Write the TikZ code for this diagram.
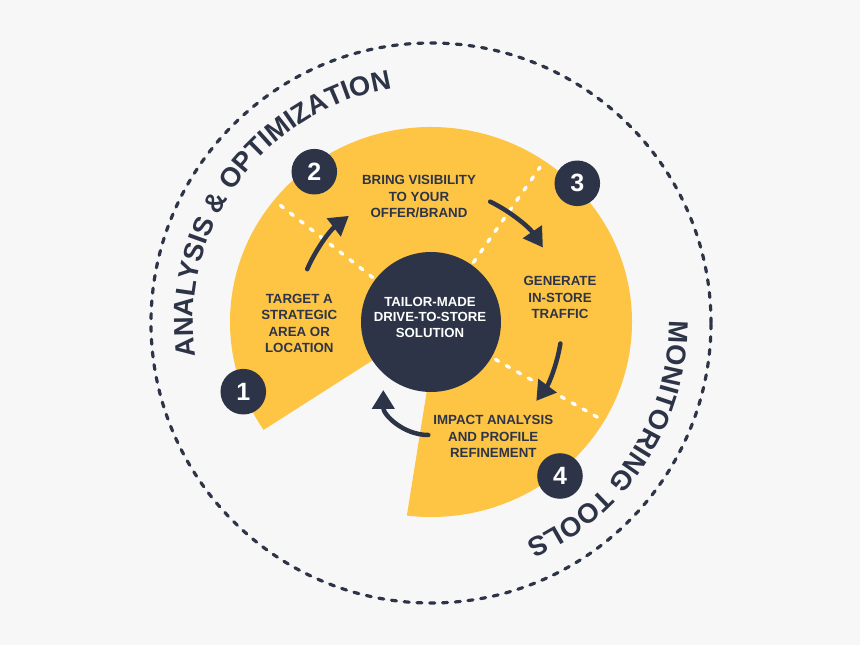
\documentclass[tikz,border=0pt]{standalone}
\usepackage{fontspec}
\setmainfont{Liberation Sans}
\usetikzlibrary{arrows.meta,decorations.text}
\definecolor{navy}{HTML}{2E3447}
\definecolor{sun}{HTML}{FDC543}
\definecolor{bg}{HTML}{F7F7F7}
\newcommand\arcfont{\fontsize{27.3}{30}\selectfont\bfseries}
\newcommand\lblfont{\fontsize{13.3}{16.3}\selectfont\bfseries}
\newcommand\ctrfont{\fontsize{13.2}{15.3}\selectfont\bfseries}
\newcommand\numfont{\fontsize{25}{25}\selectfont\bfseries}
\begin{document}
\begin{tikzpicture}[x=1pt,y=1pt,
  badge/.style={circle,fill=navy,text=white,minimum size=45.6pt,inner sep=0pt,font=\numfont},
  lbl/.style={align=center,text=navy,font=\lblfont,inner sep=0pt},
  divider/.style={white,line width=3.4pt,line cap=round,dash pattern=on 3.6pt off 9pt},
  arr/.style={navy,line width=4.5pt,line cap=round,-{Triangle[length=19pt,width=22pt]}},
  ring/.style={navy,line width=3.2pt,line cap=round,dash pattern=on 5pt off 7.8pt},
  arctext/.style={decorate,decoration={text along path,text align=center,text color=navy}}]
\fill[bg] (-431,-322) rectangle (429,323);
\useasboundingbox (-431,-322) rectangle (429,323);
% outer dashed ring
\draw[ring] (0,0) circle[radius=280];
% yellow disc with wedge removed
\fill[sun] (-4.3,-68.7) -- ([shift={(0,1)}]-96.9:201 and 195)
  arc[start angle=-96.9,end angle=213.6,x radius=201,y radius=195] -- (0,0) -- cycle;
% dividers
\draw[divider] (142:74) -- (142:192);
\draw[divider] (55:74) -- (55:190);
\draw[divider] (-29.5:74) -- (-29.5:194);
% curved arrows
\coordinate (a1) at (156.5:135);
\coordinate (a2) at (64:135);
\coordinate (a3) at (-9:131);
\coordinate (a4) at (-2.7,-112);
\draw[arr] (a1) arc[start angle=156.5,end angle=127.5,radius=135];
\draw[arr] (a2) arc[start angle=64,end angle=34,radius=135];
\draw[arr] (a3) arc[start angle=-9,end angle=-36.5,radius=131];
\draw[arr] (a4) arc[start angle=270,end angle=180,radius=45];
% hub
\node[circle,fill=navy,minimum size=140pt,inner sep=0pt] (hub) at (0,1) {};
\node[align=center,text=white,font=\ctrfont,inner sep=0pt] (hubtxt) at (-1,5.8)
  {TAILOR-MADE\\DRIVE-TO-STORE\\SOLUTION};
% badges
\node[badge] (n1) at (-187.7,-68.7) {1};
\node[badge] (n2) at (-116.7,151.3) {2};
\node[badge] (n3) at (146.3,139.7) {3};
\node[badge] (n4) at (129,-153) {4};
% labels
\node[lbl] (l1) at (-131.7,-0.3) {TARGET A\\STRATEGIC\\AREA OR\\LOCATION};
\node[lbl] (l2) at (-12,126.3) {BRING VISIBILITY\\TO YOUR\\OFFER/BRAND};
\node[lbl] (l3) at (129,25.5) {GENERATE\\IN-STORE\\TRAFFIC};
\node[lbl] (l4) at (62.3,-113.5) {IMPACT ANALYSIS\\AND PROFILE\\REFINEMENT};
% curved titles
\path[arctext,decoration={text={|\arcfont|ANALYSIS {\&} OPTIMIZATION}}]
  (213.75:238) arc[start angle=213.75,end angle=73.75,radius=238];
\path[arctext,decoration={text={|\arcfont|MONITORING TOOLS}}]
  (37:238) arc[start angle=37,end angle=-103,radius=238];
\end{tikzpicture}
\end{document}
